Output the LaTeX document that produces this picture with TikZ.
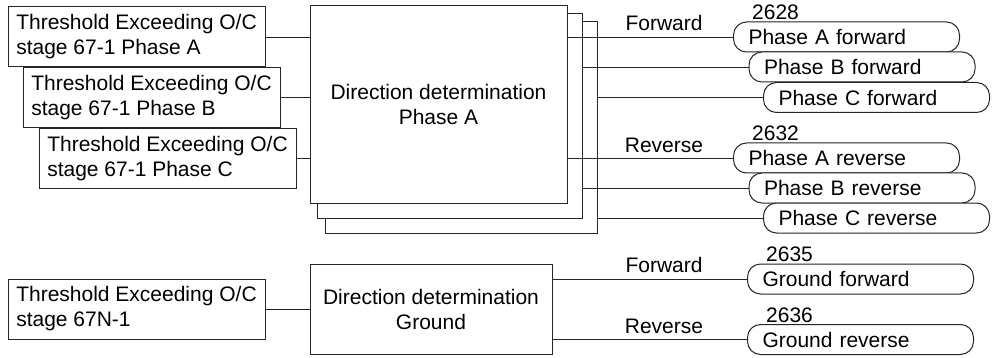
\documentclass[tikz,border=0pt]{standalone}
\usepackage{fontspec}
\setmainfont{Liberation Sans}
\begin{document}
\begin{tikzpicture}[x=1pt,y=-1pt,
  every node/.style={font=\fontsize{21}{25}\selectfont, text=black},
  srcbox/.style={draw=black!85, line width=1pt, fill=white, rectangle,
    minimum width=257pt, minimum height=60pt, align=left, inner sep=0pt},
  dirbox/.style={draw=black!85, line width=1pt, fill=white, rectangle,
    align=center, inner sep=0pt},
  outbox/.style={draw=black!85, line width=1pt, fill=white, rectangle,
    rounded corners=13pt, minimum height=30pt, text width=196pt,
    inner xsep=15pt, inner ysep=0pt, align=left},
  conn/.style={draw=black!85, line width=0.9pt},
  lbl/.style={anchor=base, inner sep=0pt},
  num/.style={anchor=base west, inner sep=0pt}]
\useasboundingbox (0,0) rectangle (995,358);

% source boxes
\node[srcbox] (tA) at (136.5,37) {Threshold Exceeding O/C\\stage 67-1 Phase A};
\node[srcbox] (tB) at (151.5,97.5) {Threshold Exceeding O/C\\stage 67-1 Phase B};
\node[srcbox] (tC) at (167.5,158.5) {Threshold Exceeding O/C\\stage 67-1 Phase C};
\node[srcbox] (tN) at (136.5,309) {Threshold Exceeding O/C\\stage 67N-1};

% direction determination stack
\node[dirbox, minimum width=272pt, minimum height=211pt] (dirA3) at (461,127.5) {};
\node[dirbox, minimum width=265pt, minimum height=204pt] (dirA2) at (449.5,116) {};
\node[dirbox, minimum width=257pt, minimum height=197pt] (dirA) at (438.5,104.5) {Direction determination\\Phase A};
\node[dirbox, minimum width=242pt, minimum height=90pt] (dirG) at (431,309) {Direction determination\\Ground};

% outputs
\node[outbox] (pAf) at (846.5,37) {Phase A forward};
\node[outbox] (pBf) at (862,67) {Phase B forward};
\node[outbox] (pCf) at (876.5,97.5) {Phase C forward};
\node[outbox] (pAr) at (846.5,158) {Phase A reverse};
\node[outbox] (pBr) at (862,188) {Phase B reverse};
\node[outbox] (pCr) at (876.5,218) {Phase C reverse};
\node[outbox] (gf) at (860.5,279) {Ground forward};
\node[outbox] (gr) at (860.5,339.5) {Ground reverse};

% numbers
\node[num] (n2628) at ([xshift=19pt,yshift=2pt]pAf.north west) {2628};
\node[num] (n2632) at ([xshift=19pt,yshift=2pt]pAr.north west) {2632};
\node[num] (n2635) at ([xshift=19pt,yshift=2pt]gf.north west) {2635};
\node[num] (n2636) at ([xshift=19pt,yshift=2pt]gr.north west) {2636};

% labels
\node[lbl] (lf1) at (664,31) {Forward};
\node[lbl] (lr1) at (664,153) {Reverse};
\node[lbl] (lf2) at (664,272.5) {Forward};
\node[lbl] (lr2) at (664,333.5) {Reverse};

% connectors
\draw[conn] (tA.east) -- (tA.east -| dirA.west);
\draw[conn] (tB.east) -- (tB.east -| dirA.west);
\draw[conn] (tC.east) -- (tC.east -| dirA.west);
\draw[conn] (tN.east) -- (tN.east -| dirG.west);

\draw[conn] (pAf.west -| dirA.east) -- (pAf.west);
\draw[conn] (pBf.west -| dirA2.east) -- (pBf.west);
\draw[conn] (pCf.west -| dirA3.east) -- (pCf.west);
\draw[conn] (pAr.west -| dirA.east) -- (pAr.west);
\draw[conn] (pBr.west -| dirA2.east) -- (pBr.west);
\draw[conn] (pCr.west -| dirA3.east) -- (pCr.west);
\draw[conn] (gf.west -| dirG.east) -- (gf.west);
\draw[conn] (gr.west -| dirG.east) -- (gr.west);
\end{tikzpicture}
\end{document}
